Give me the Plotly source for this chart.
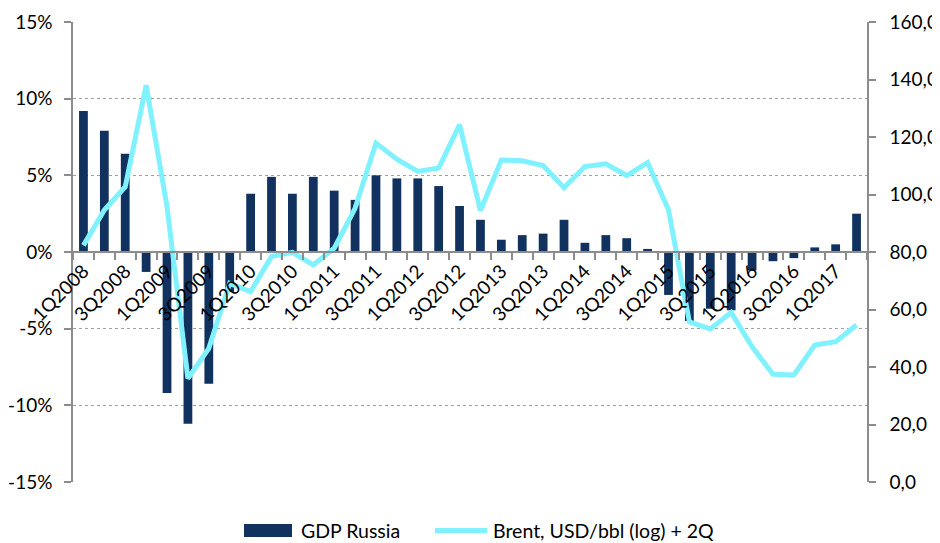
import plotly.graph_objects as go

quarters = [f"{q}Q{y}" for y in range(2008, 2018) for q in range(1, 5)][:38]

gdp_russia = [9.2, 7.9, 6.4, -1.3,
              -9.2, -11.2, -8.6, -2.6,
              3.8, 4.9, 3.8, 4.9,
              4.0, 3.4, 5.0, 4.8,
              4.8, 4.3, 3.0, 2.1,
              0.8, 1.1, 1.2, 2.1,
              0.6, 1.1, 0.9, 0.2,
              -2.8, -4.5, -3.7, -3.8,
              -1.2, -0.6, -0.4, 0.3,
              0.5, 2.5]

brent = [82.3, 94.6, 102.7, 138.0,
         95.8, 36.0, 46.5, 69.1,
         66.2, 78.4, 79.9, 75.5,
         81.3, 95.2, 117.9, 112.3,
         108.0, 109.2, 124.2, 94.4,
         112.0, 111.7, 110.1, 102.4,
         109.7, 110.7, 106.6, 111.1,
         94.6, 55.7, 53.2, 59.0,
         47.0, 37.5, 37.2, 47.6,
         48.8, 54.6]

series_names = ["GDP Russia", "Brent, USD/bbl (log) + 2Q"]
left_tickvals = [-15, -10, -5, 0, 5, 10, 15]
left_ticktext = ["-15%", "-10%", "-5%", "0%", "5%", "10%", "15%"]
right_tickvals = [0, 20, 40, 60, 80, 100, 120, 140, 160]
right_ticktext = ["0,0", "20,0", "40,0", "60,0", "80,0", "100,0", "120,0", "140,0", "160,0"]
x_ticktext = [q if i % 2 == 0 else "" for i, q in enumerate(quarters)]

FONT = "Lato, Open Sans, sans-serif"
AXIS_GREY = "#8c8c8c"
BAR_COLOR = "#11325e"
LINE_COLOR = "#80f2ff"

# the page body has an 8px default margin: compensate so the chart fills the window
OFF = 8
W, H = 940 - OFF, 543 - OFF
ML, MT = 73 - OFF, 22 - OFF
MR, MB = 73, 61
PW, PH = W - ML - MR, H - MT - MB


def px_to_paper(px, py):
    # screen pixel -> paper fraction
    return (px - OFF - ML) / PW, (H - MB - (py - OFF)) / PH


fig = go.Figure()
fig.add_trace(go.Bar(
    x=quarters, y=gdp_russia, name=series_names[0],
    marker=dict(color=BAR_COLOR, line=dict(width=0)),
    yaxis="y",
))
fig.add_trace(go.Scatter(
    x=quarters, y=brent, name=series_names[1],
    mode="lines", line=dict(color=LINE_COLOR, width=5),
    yaxis="y2",
))

# custom legend (decoration, in paper space)
x0, y0 = px_to_paper(244, 524)
x1, y1 = px_to_paper(292, 537)
fig.add_shape(type="rect", xref="paper", yref="paper", x0=x0, x1=x1, y0=y0, y1=y1,
              fillcolor=BAR_COLOR, line=dict(width=0))
tx, ty = px_to_paper(299, 530.5)
fig.add_annotation(xref="paper", yref="paper", x=tx, y=ty, xanchor="left", yanchor="middle",
                   text=series_names[0], showarrow=False, font=dict(size=19.5))
lx0, ly = px_to_paper(435, 530.5)
lx1, _ = px_to_paper(487, 530.5)
fig.add_shape(type="line", xref="paper", yref="paper", x0=lx0, x1=lx1, y0=ly, y1=ly,
              line=dict(color=LINE_COLOR, width=5))
tx2, _ = px_to_paper(491, 530.5)
fig.add_annotation(xref="paper", yref="paper", x=tx2, y=ty, xanchor="left", yanchor="middle",
                   text=series_names[1], showarrow=False, font=dict(size=19.5))

fig.update_layout(
    width=W, height=H,
    margin=dict(l=ML, r=MR, t=MT, b=MB),
    paper_bgcolor="white", plot_bgcolor="white",
    font=dict(family=FONT, size=17, color="#000000"),
    bargap=0.58,
    showlegend=False,
    xaxis=dict(
        type="category", anchor="free", position=0.5,
        tickmode="array", tickvals=quarters, ticktext=x_ticktext,
        tickangle=-45, tickson="boundaries", ticks="outside", ticklen=7,
        tickcolor=AXIS_GREY, tickwidth=1.5,
        showline=True, linecolor=AXIS_GREY, linewidth=1.5,
        showgrid=False, automargin=False,
        tickfont=dict(size=19),
    ),
    yaxis=dict(
        range=[-15, 15], tickmode="array", tickvals=left_tickvals, ticktext=left_ticktext,
        showline=True, linecolor=AXIS_GREY, linewidth=1.5,
        ticks="outside", ticklen=7, tickcolor=AXIS_GREY, tickwidth=1.5,
        showgrid=True, gridcolor="#a0a0a0", griddash="dot", gridwidth=1,
        zeroline=False, automargin=False, ticklabelstandoff=8,
        tickfont=dict(size=19),
    ),
    yaxis2=dict(
        range=[0, 160], overlaying="y", side="right",
        tickmode="array", tickvals=right_tickvals, ticktext=right_ticktext,
        showline=True, linecolor=AXIS_GREY, linewidth=1.5,
        ticks="outside", ticklen=7, tickcolor=AXIS_GREY, tickwidth=1.5,
        showgrid=False, zeroline=False, automargin=False, ticklabelstandoff=10,
        tickfont=dict(size=19),
    ),
)

fig.write_html("out.html")
